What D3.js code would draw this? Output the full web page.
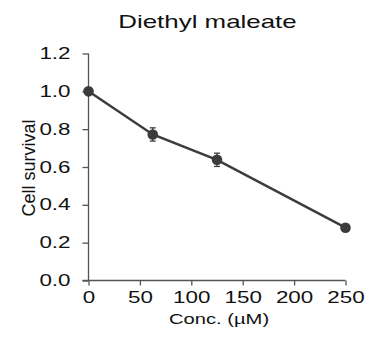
<!DOCTYPE html>
<html><head><meta charset="utf-8">
<script src="https://cdn.jsdelivr.net/npm/d3@7"></script>
<style>body{margin:0;background:#fff}svg{display:block}text{font-family:"Liberation Sans",Arial,sans-serif;fill:#111}</style>
</head><body><svg id="c" width="371" height="338"></svg>
<script>
const title = "Diethyl maleate";
const xLabel = "Conc. (µM)";
const yLabel = "Cell survival";
const conc = [0, 62.5, 125, 250];
const survival = [1.0, 0.772, 0.638, 0.279];
const errors = [0.0, 0.035, 0.035, 0.018];
const xTicks = [0, 50, 100, 150, 200, 250];
const yTicks = [0.0, 0.2, 0.4, 0.6, 0.8, 1.0, 1.2];

const svg = d3.select("#c");
const x = d3.scaleLinear().domain([0, 250]).range([88.5, 345.5]);
const y = d3.scaleLinear().domain([0, 1.2]).range([280.5, 53.5]);
const SX = 1.4, axisColor = "#555", markColor = "#3c3c3c";

function stretch(sel) {
  sel.each(function () {
    const t = d3.select(this);
    const xx = +t.attr("x") || 0;
    t.attr("x", xx / SX).attr("transform", `scale(${SX},1)`);
  });
}

const gx = svg.append("g").attr("transform", `translate(0,${y(0)})`)
  .call(d3.axisBottom(x).tickValues(xTicks).tickSize(5).tickPadding(6).tickFormat(d3.format("d")));
const gy = svg.append("g").attr("transform", `translate(${x(0)},0)`)
  .call(d3.axisLeft(y).tickValues(yTicks).tickSize(6).tickPadding(12).tickFormat(d3.format(".1f")));
[gx, gy].forEach(g => {
  g.select(".domain").attr("stroke", axisColor).attr("stroke-width", 1.3);
  g.selectAll(".tick line").attr("stroke", axisColor).attr("stroke-width", 1.3);
  g.selectAll(".tick text").attr("font-size", 16).attr("fill", "#111")
    .style("font-family", '"Liberation Sans",Arial,sans-serif');
  g.selectAll(".domain").attr("d", null);
});
// redraw domains as plain lines (no outer ticks)
gx.select(".domain").attr("d", `M${x(0) - 6},0H${x(250)}`);
gy.select(".domain").attr("d", `M0,${y(0)}V${y(1.2)}`);
stretch(gx.selectAll(".tick text"));
stretch(gy.selectAll(".tick text"));

const line = d3.line().x((d, i) => x(conc[i])).y(d => y(d));
svg.append("path").datum(survival).attr("d", line)
  .attr("fill", "none").attr("stroke", markColor).attr("stroke-width", 2.5);

const eb = svg.append("g").attr("stroke", markColor).attr("stroke-width", 1.3);
conc.forEach((c, i) => {
  if (errors[i] <= 0) return;
  const cx = x(c), y1 = y(survival[i] + errors[i]), y2 = y(survival[i] - errors[i]);
  eb.append("line").attr("x1", cx).attr("x2", cx).attr("y1", y1).attr("y2", y2);
  eb.append("line").attr("x1", cx - 3).attr("x2", cx + 3).attr("y1", y1).attr("y2", y1);
  eb.append("line").attr("x1", cx - 3).attr("x2", cx + 3).attr("y1", y2).attr("y2", y2);
});
svg.append("g").selectAll("circle").data(survival).join("circle")
  .attr("cx", (d, i) => x(conc[i])).attr("cy", d => y(d)).attr("r", 5.3).attr("fill", markColor);

svg.append("text").attr("x", 207.5 / SX).attr("y", 28).attr("transform", `scale(${SX},1)`)
  .attr("text-anchor", "middle").attr("font-size", 18.5).text(title);
svg.append("text").attr("x", 219 / 1.32).attr("y", 324).attr("transform", `scale(1.32,1)`)
  .attr("text-anchor", "middle").attr("font-size", 15.3).text(xLabel);
svg.append("text").attr("transform", `translate(35,168) rotate(-90)`)
  .attr("text-anchor", "middle").attr("font-size", 18).text(yLabel);
</script></body></html>
